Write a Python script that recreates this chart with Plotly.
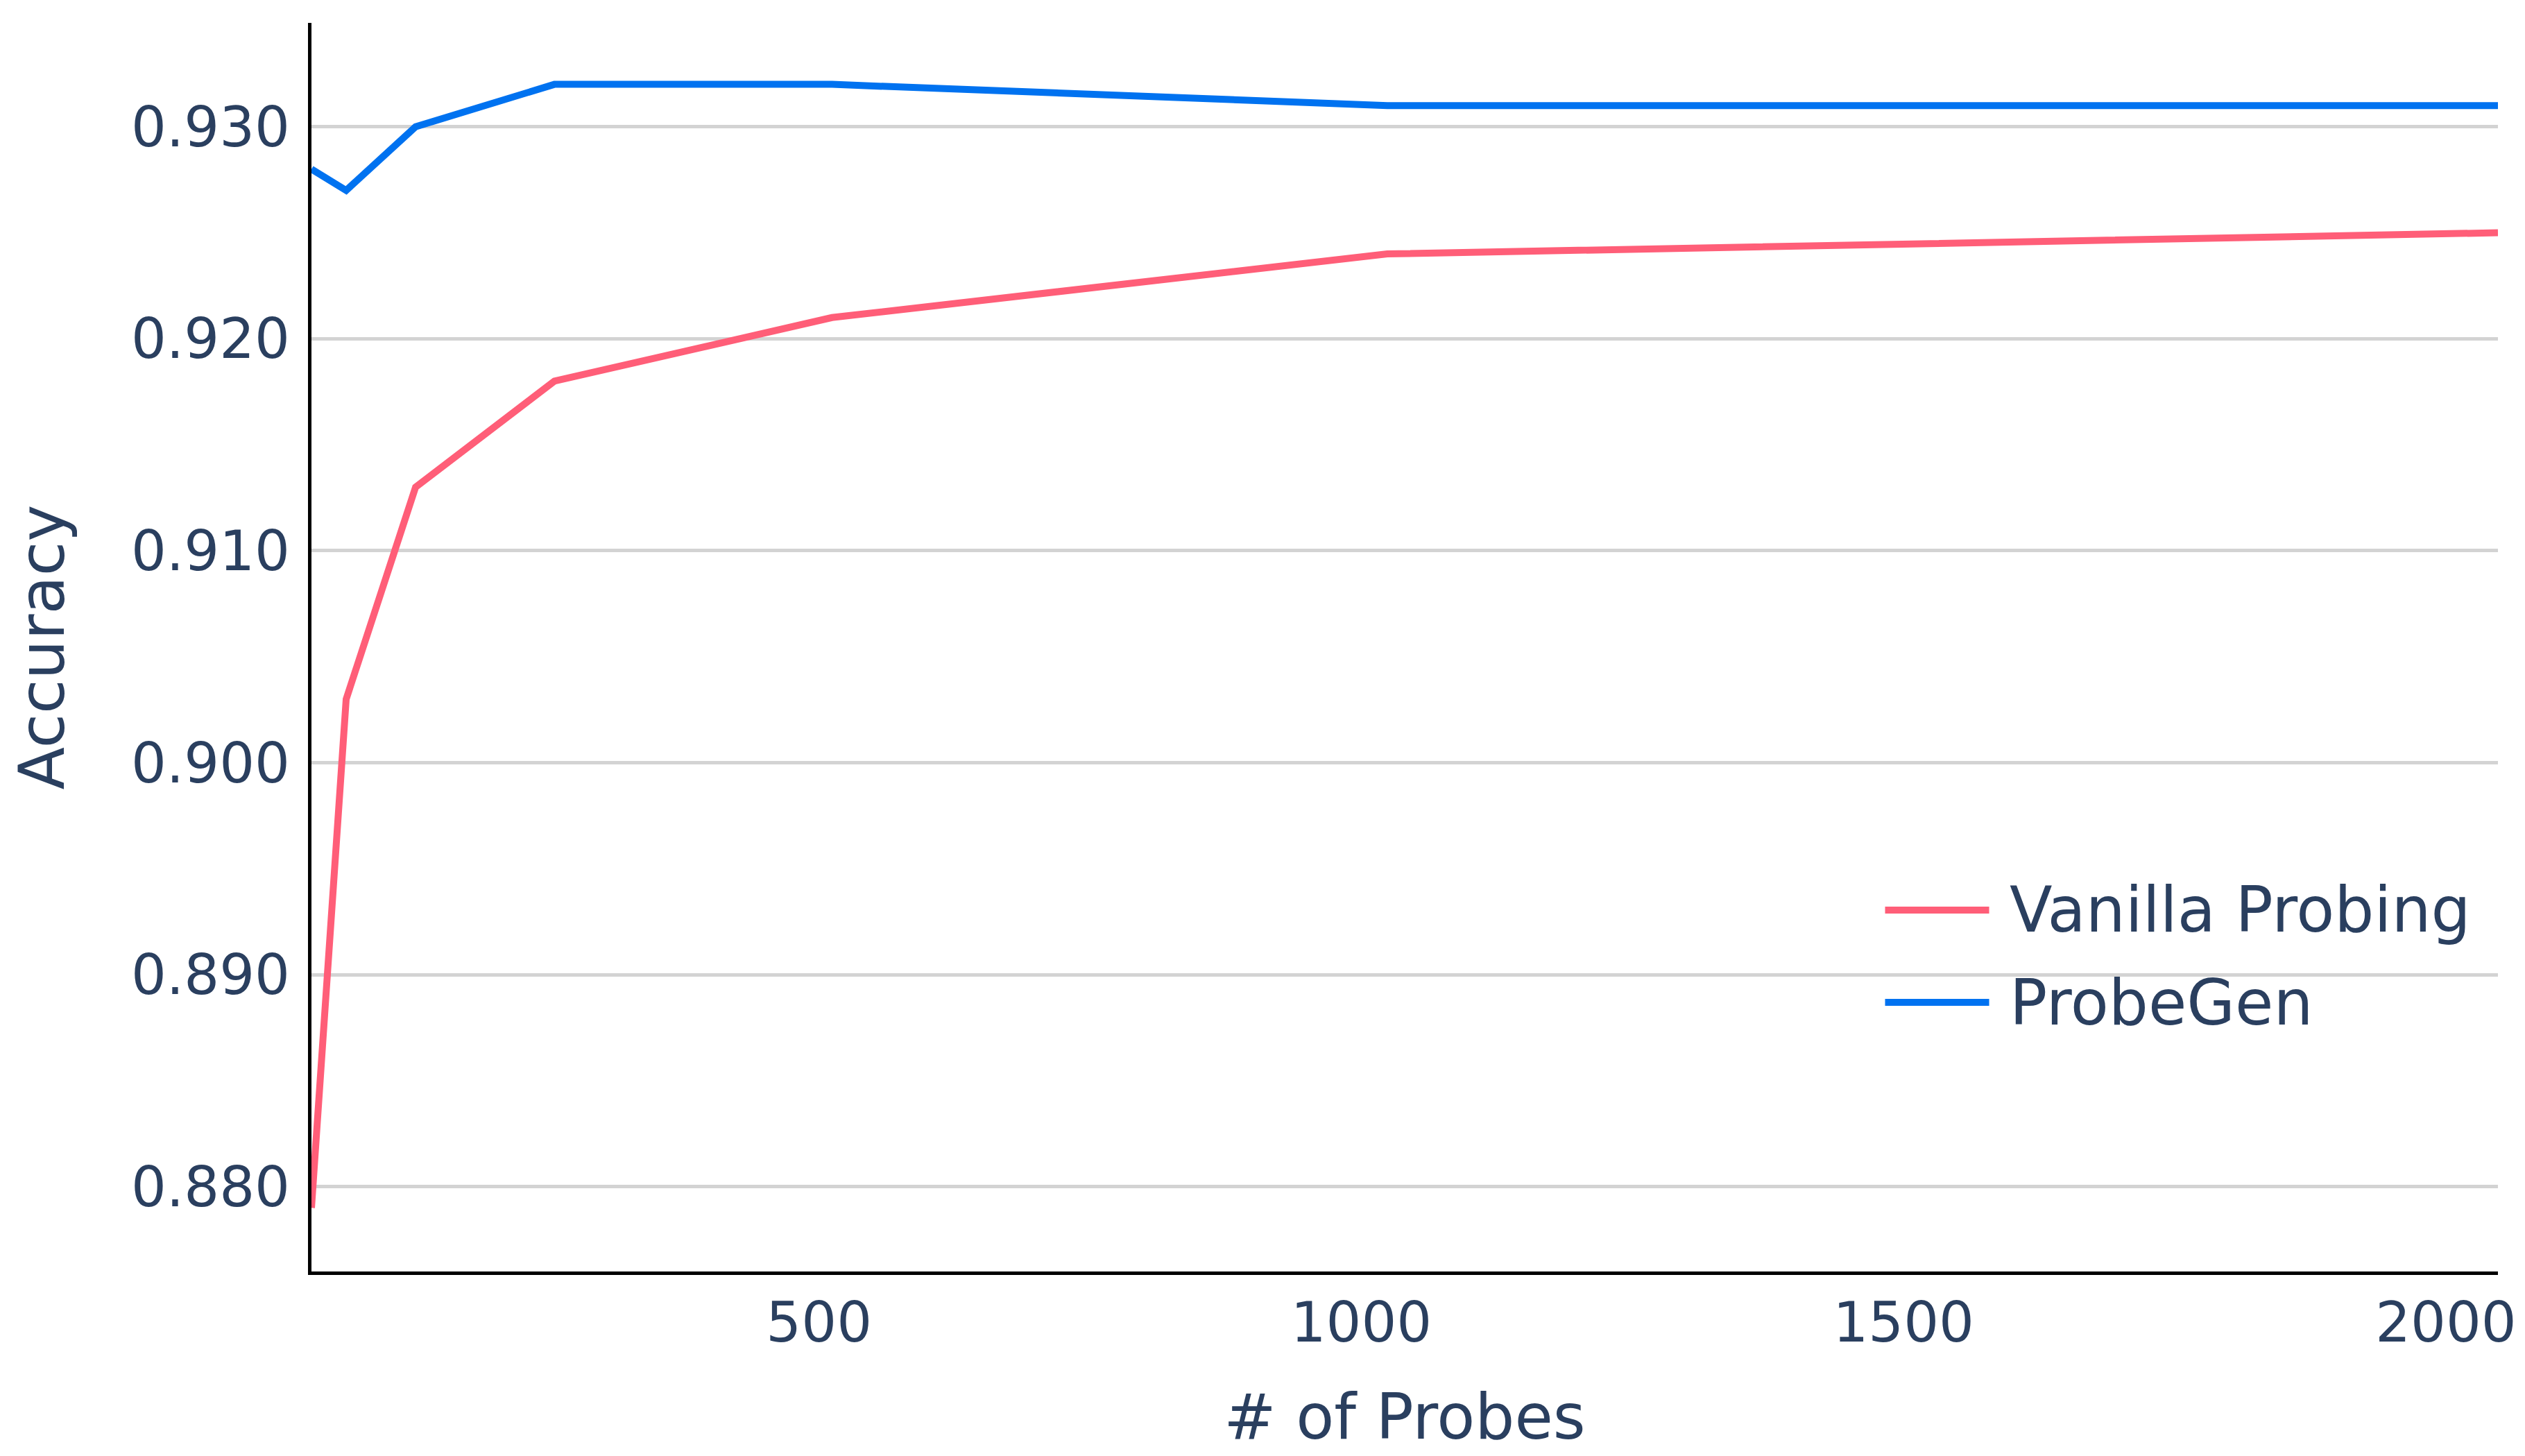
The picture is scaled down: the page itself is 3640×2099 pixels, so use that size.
import plotly.graph_objects as go

# number of probes and accuracy
probes = [32, 64, 128, 256, 512, 1024, 2048]
vanilla_acc = [0.879, 0.903, 0.913, 0.918, 0.921, 0.924, 0.925]
probegen_acc = [0.928, 0.927, 0.930, 0.932, 0.932, 0.931, 0.931]

series_names = ["Vanilla Probing", "ProbeGen"]
series_colors = ["#FF5E78", "#0072F0"]

font_family = "Verdana, DejaVu Sans, sans-serif"

fig = go.Figure()
for name, color, acc in zip(series_names, series_colors, [vanilla_acc, probegen_acc]):
    fig.add_trace(go.Scatter(x=probes, y=acc, mode="lines", name=name,
                             line=dict(color=color, width=10), showlegend=False))

# legend drawn by hand so the line keys are as long as in the original
legend_rows_y = [0.2895, 0.2155]
fig.add_shape(type="rect", xref="paper", yref="paper", x0=0.7148, x1=1.0, y0=0.17, y1=0.335,
              fillcolor="white", line=dict(width=0), layer="between")
for name, color, ly in zip(series_names, series_colors, legend_rows_y):
    fig.add_shape(type="line", xref="paper", yref="paper", x0=0.7197, x1=0.7673, y0=ly, y1=ly,
                  line=dict(color=color, width=10))
    fig.add_annotation(xref="paper", yref="paper", x=0.7759, y=ly, text=name, showarrow=False,
                       xanchor="left", yanchor="middle", font=dict(size=90))

fig.update_layout(
    width=3640, height=2099,
    paper_bgcolor="white", plot_bgcolor="white",
    font=dict(family=font_family, color="#2a3f5f", size=80),
    margin=dict(l=441, r=47, t=25, b=274),
)
fig.update_xaxes(
    title=dict(text="# of Probes", font=dict(size=90), standoff=60),
    range=[32, 2048], dtick=500, tick0=0,
    showline=True, linecolor="black", linewidth=5,
    showgrid=False, zeroline=False, ticks="",
)
fig.update_yaxes(
    title=dict(text="Accuracy", font=dict(size=90), standoff=85),
    range=[0.876, 0.9349], dtick=0.01, tick0=0.88, tickformat=".3f",
    showline=True, linecolor="black", linewidth=5, ticklabelstandoff=10,
    showgrid=True, gridcolor="#d3d3d3", gridwidth=5, zeroline=False, ticks="",
)

fig.write_html("out.html")
